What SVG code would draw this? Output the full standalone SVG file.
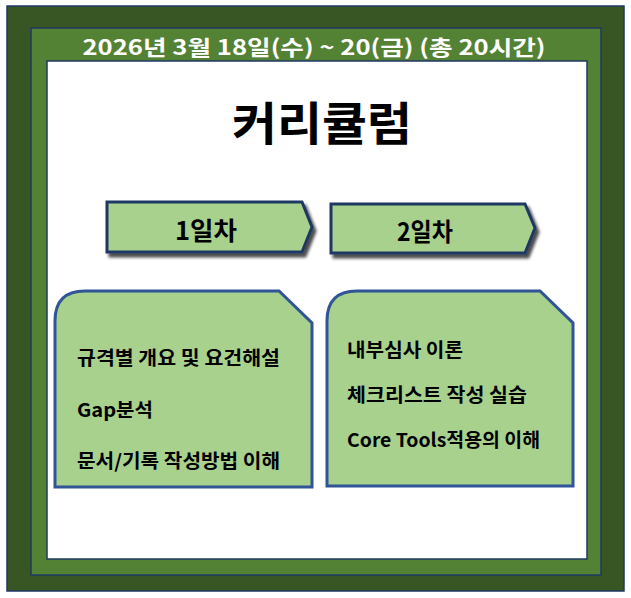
<svg xmlns="http://www.w3.org/2000/svg" width="631" height="598" viewBox="0 0 631 598">
<style>
.frame{stroke:#1f3864;stroke-width:1.5}
.arrow{fill:#a9d18e;stroke:#1f3864;stroke-width:3;stroke-linejoin:miter}
.box{fill:#a9d18e;stroke:#2f5597;stroke-width:3}
.t{font-family:"Noto Sans CJK KR","Noto Sans",sans-serif;font-weight:bold}
.item{font-family:"Noto Sans CJK KR","Noto Sans",sans-serif;font-weight:bold;font-size:19px;fill:#000}
</style>
<defs>
<filter id="sh" x="-10%" y="-20%" width="130%" height="160%">
<feDropShadow dx="3" dy="4" stdDeviation="1.8" flood-color="#000" flood-opacity="0.7"/>
</filter>
</defs>
<g id="background">
<rect class="frame" x="7" y="6" width="617" height="585" fill="#375623"/>
<rect class="frame" x="31" y="28" width="570" height="547" fill="#548235"/>
<rect class="frame" x="47" y="61" width="540" height="498" fill="#ffffff"/>
<text class="t" x="314" y="55" font-size="21" fill="#ffffff" text-anchor="middle" textLength="463" lengthAdjust="spacingAndGlyphs">2026년 3월 18일(수) ~ 20(금) (총 20시간)</text>
<text class="t" x="322" y="140" font-size="46" fill="#000" text-anchor="middle" textLength="180" lengthAdjust="spacingAndGlyphs">커리큘럼</text>
</g>
<g id="day1">
<polygon class="arrow" filter="url(#sh)" points="107,202 302,202 312,227 302,252 107,252"/>
<text class="t" x="206" y="240" font-size="25" text-anchor="middle" fill="#000" textLength="62" lengthAdjust="spacingAndGlyphs">1일차</text>
</g>
<g id="day2">
<polygon class="arrow" filter="url(#sh)" points="331,204 525,204 535,228 525,253 331,253"/>
<text class="t" x="425" y="241" font-size="25" text-anchor="middle" fill="#000" textLength="56" lengthAdjust="spacingAndGlyphs">2일차</text>
</g>
<g id="box1">
<path class="box" d="M55,487 L55,321 Q55,291 85,291 L279,291 L312,323 L312,487 Z"/>
<text class="item" x="77" y="365" textLength="203" lengthAdjust="spacingAndGlyphs">규격별 개요 및 요건해설</text>
<text class="item" x="77" y="417" textLength="76" lengthAdjust="spacingAndGlyphs">Gap분석</text>
<text class="item" x="77" y="468" textLength="203" lengthAdjust="spacingAndGlyphs">문서/기록 작성방법 이해</text>
</g>
<g id="box2">
<path class="box" d="M327,486 L327,321 Q327,291 357,291 L540,291 L573,323 L573,486 Z"/>
<text class="item" x="347" y="357" textLength="116" lengthAdjust="spacingAndGlyphs">내부심사 이론</text>
<text class="item" x="347" y="402" textLength="180" lengthAdjust="spacingAndGlyphs">체크리스트 작성 실습</text>
<text class="item" x="347" y="447" textLength="193" lengthAdjust="spacingAndGlyphs">Core Tools적용의 이해</text>
</g>
<g id="connectors"></g>
</svg>
